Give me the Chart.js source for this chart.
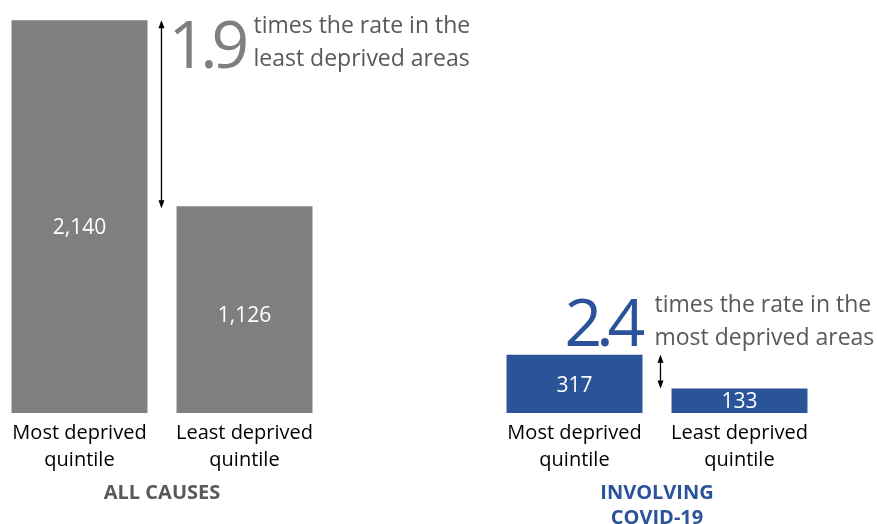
<!DOCTYPE html>
<html>
<head>
<meta charset="utf-8">
<script src="https://cdn.jsdelivr.net/npm/chart.js@4"></script>
<style>
  html, body { margin: 0; padding: 0; background: #fff; }
  #wrap { width: 877px; height: 524px; position: relative; overflow: hidden; }
  #grafico { position: absolute; left: -3px; top: 0; }
</style>
</head>
<body>
<div id="wrap"><canvas id="grafico" width="877" height="524"></canvas></div>
<script>
// Taxas por quintil (a posição vazia separa os dois grupos)
const categorias = [
    ['Most deprived', 'quintile'],
    ['Least deprived', 'quintile'],
    '',
    ['Most deprived', 'quintile'],
    ['Least deprived', 'quintile']
];
const valores = [2140, 1126, null, 317, 133];
const cores = ['#7f7f7f', '#7f7f7f', '#ffffff', '#2b5399', '#2b5399'];
const grupos = [['ALL CAUSES'], ['INVOLVING', 'COVID-19']];
const coresGrupos = ['#595959', '#2b5399'];
const frases = [
    ['times the rate in the', 'least deprived areas'],
    ['times the rate in the', 'most deprived areas']
];

const fonte = '"Open Sans", "Noto Sans", sans-serif';

// seta vertical com pontas nas duas extremidades
function seta(ctx, x, y1, y2) {
    ctx.save();
    ctx.strokeStyle = '#000';
    ctx.fillStyle = '#000';
    ctx.lineWidth = 1.3;
    ctx.beginPath();
    ctx.moveTo(x, y1 + 2);
    ctx.lineTo(x, y2 - 2);
    ctx.stroke();
    [[y1, 1], [y2, -1]].forEach(([y, d]) => {
        ctx.beginPath();
        ctx.moveTo(x, y);
        ctx.lineTo(x - 3, y + 8 * d);
        ctx.lineTo(x + 3, y + 8 * d);
        ctx.closePath();
        ctx.fill();
    });
    ctx.restore();
}

const anotacoes = {
    id: 'anotacoes',
    afterDatasetsDraw(chart) {
        const ctx = chart.ctx;
        const barras = chart.getDatasetMeta(0).data;
        const x = chart.scales.x;

        // valores dentro das barras
        ctx.save();
        ctx.font = '21px ' + fonte;
        ctx.fillStyle = '#fff';
        ctx.textAlign = 'center';
        ctx.textBaseline = 'middle';
        valores.forEach((v, i) => {
            if (v === null) return;
            const b = barras[i];
            ctx.fillText(v.toLocaleString('en-US'), b.x, b.y + (b.base - b.y) * 0.53);
        });
        ctx.restore();

        // nomes dos grupos
        ctx.save();
        ctx.font = 'bold 20px ' + fonte;
        ctx.textAlign = 'center';
        ctx.textBaseline = 'middle';
        grupos.forEach((linhas, g) => {
            const cx = (x.getPixelForTick(g * 3) + x.getPixelForTick(g * 3 + 1)) / 2;
            ctx.fillStyle = coresGrupos[g];
            linhas.forEach((t, k) => ctx.fillText(t, cx, 493 + k * 25));
        });
        ctx.restore();

        // razão entre os quintis
        const a0 = barras[0], a1 = barras[1], c0 = barras[3], c1 = barras[4];
        const xa = a0.x + a0.width / 2 + 14;
        seta(ctx, xa, a0.y, a1.y + 2);
        const xc = c0.x + c0.width / 2 + 18;
        seta(ctx, xc, c0.y, c1.y);

        ctx.save();
        ctx.textBaseline = 'alphabetic';
        // 1.9
        ctx.font = '66px ' + fonte;
        ctx.letterSpacing = '-6px';
        ctx.fillStyle = '#7f7f7f';
        ctx.textAlign = 'left';
        const r1 = (valores[0] / valores[1]).toFixed(1);
        ctx.fillText(r1, xa + 7, a0.y + 48);
        ctx.letterSpacing = '0px';
        ctx.font = '23px ' + fonte;
        ctx.fillStyle = '#595959';
        frases[0].forEach((t, k) => ctx.fillText(t, xa + 92, a0.y + 13 + k * 33));

        // 2.4
        ctx.font = '66px ' + fonte;
        ctx.letterSpacing = '-6px';
        ctx.fillStyle = '#2b5399';
        ctx.textAlign = 'left';
        const r2 = (valores[3] / valores[4]).toFixed(1);
        ctx.fillText(r2, c0.x + c0.width / 2 - 78, c0.y - 9);
        ctx.letterSpacing = '0px';
        ctx.font = '23px ' + fonte;
        ctx.fillStyle = '#595959';
        frases[1].forEach((t, k) => ctx.fillText(t, c0.x + c0.width / 2 + 12, c0.y - 43 + k * 33));
        ctx.restore();
    }
};

const ctx = document.getElementById('grafico').getContext('2d');
window.grafico = new Chart(ctx, {
    type: 'bar',
    data: {
        labels: categorias,
        datasets: [{
            data: valores,
            backgroundColor: cores,
            barPercentage: 0.824,
            categoryPercentage: 1
        }]
    },
    options: {
        responsive: false,
        animation: false,
        layout: { padding: { left: 0, right: 52, top: 0, bottom: 0 } },
        plugins: { legend: { display: false }, tooltip: { enabled: false } },
        scales: {
            x: {
                grid: { display: false, drawTicks: false },
                border: { display: false },
                ticks: {
                    color: '#000',
                    font: { family: fonte, size: 20, lineHeight: 1.35 },
                    padding: 7,
                    maxRotation: 0,
                    autoSkip: false
                },
                afterFit(scale) { scale.height = 111; }
            },
            y: {
                display: false,
                min: 0,
                max: 2250
            }
        }
    },
    plugins: [anotacoes]
});
</script>
</body>
</html>
